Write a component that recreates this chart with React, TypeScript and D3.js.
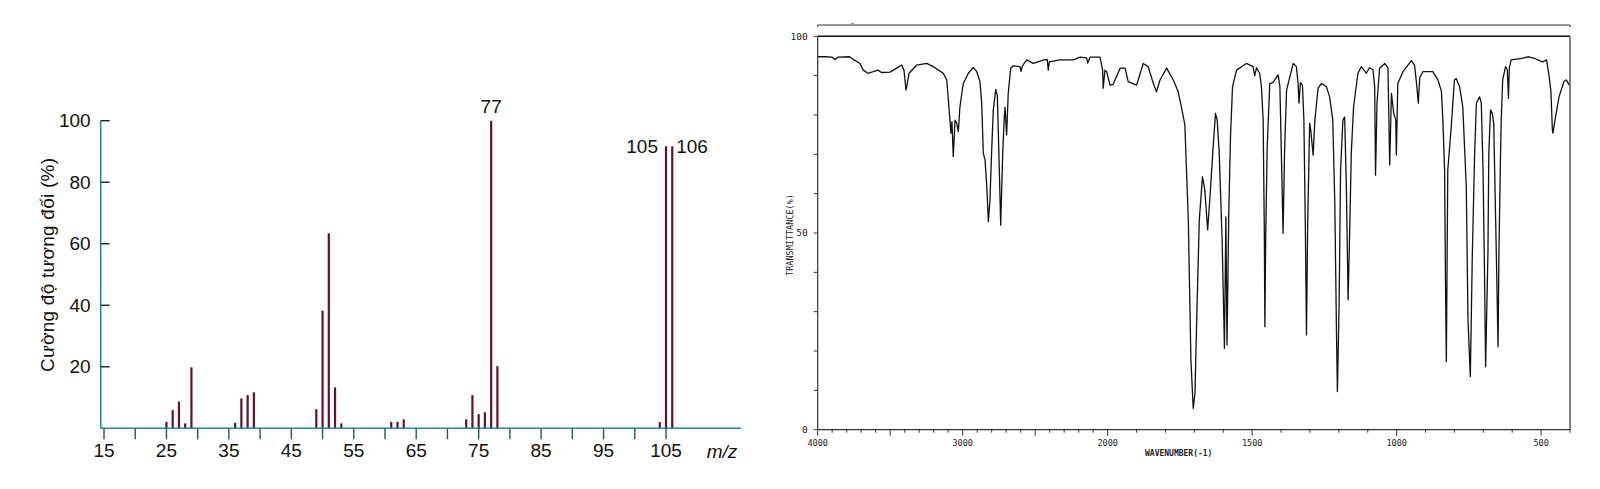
import React from 'react';
import * as d3 from 'd3';

// mass spectrum (left)
const msMz = [25, 26, 27, 28, 29, 36, 37, 38, 39, 49, 50, 51, 52, 53, 61, 62, 63, 73, 74, 75, 76, 77, 78, 104, 105, 106];
const msIntensity = [2.1, 5.9, 8.7, 1.6, 19.8, 1.8, 9.7, 10.8, 11.7, 6.2, 38.2, 63.4, 13.3, 1.6, 2.1, 2.1, 2.9, 2.9, 10.8, 4.6, 5.2, 100, 20.2, 2.0, 91.7, 91.7];
const msYTicks = [20, 40, 60, 80, 100];
const msXTicks = d3.range(15, 106, 5);
const msXLabels = [15, 25, 35, 45, 55, 65, 75, 85, 95, 105];

// IR spectrum (right)
const irWavenumber = [
  4000, 3950, 3900, 3880, 3860, 3780, 3750, 3708, 3686, 3653, 3617, 3584, 3560, 3501, 3455, 3421, 3405, 3391, 3382, 3370,
  3317, 3248, 3203, 3134, 3110, 3099, 3088, 3081, 3074, 3065, 3053, 3042, 3030, 3019, 2996, 2961, 2927, 2903, 2881, 2869,
  2858, 2846, 2834, 2823, 2812, 2800, 2789, 2772, 2761, 2748, 2738, 2724, 2713, 2708, 2697, 2686, 2669, 2651, 2605, 2598,
  2589, 2559, 2513, 2441, 2417, 2410, 2403, 2329, 2237, 2191, 2145, 2138, 2122, 2053, 2035, 2031, 2019, 2007, 1992, 1981,
  1957, 1940, 1929, 1900, 1877, 1860, 1842, 1831, 1819, 1796, 1773, 1756, 1744, 1733, 1721, 1712, 1704, 1698, 1692, 1683,
  1672, 1664, 1654, 1646, 1635, 1627, 1621, 1614, 1604, 1598, 1596, 1591, 1587, 1581, 1575, 1568, 1554, 1520, 1497, 1491,
  1485, 1474, 1468, 1462, 1458, 1456, 1453, 1448, 1439, 1428, 1410, 1404, 1399, 1393, 1388, 1381, 1358, 1347, 1341, 1338,
  1333, 1326, 1321, 1316, 1312, 1308, 1301, 1297, 1289, 1283, 1272, 1260, 1243, 1232, 1221, 1214, 1208, 1205, 1199, 1194,
  1186, 1180, 1174, 1168, 1162, 1157, 1149, 1134, 1122, 1105, 1094, 1082, 1076, 1073, 1068, 1059, 1041, 1030, 1027, 1024,
  1018, 1010, 1003, 1001, 996, 978, 949, 938, 930, 925, 920, 909, 875, 857, 845, 840, 834, 831, 828, 823,
  811, 800, 794, 782, 771, 759, 753, 745, 738, 730, 724, 713, 707, 701, 696, 692, 684, 681, 675, 669,
  664, 655, 649, 646, 641, 638, 633, 623, 617, 613, 610, 604, 566, 543, 520, 495, 481, 472, 466, 461,
  459, 452, 438, 421, 413, 402,
];
const irTransmittance = [
  94.8, 94.8, 94.7, 94.1, 94.7, 94.8, 94.0, 93.1, 91.4, 90.6, 91.0, 91.4, 90.8, 90.9, 91.9, 92.7, 91.4, 86.3, 88.0, 90.6,
  92.7, 93.1, 92.3, 90.6, 88.9, 83.8, 78.7, 75.4, 78.3, 69.4, 78.7, 78.0, 75.8, 82.1, 88.0, 90.6, 92.1, 91.0, 88.5, 83.0,
  70.3, 68.6, 61.8, 52.9, 58.4, 71.1, 81.3, 86.5, 84.9, 66.9, 52.0, 70.3, 79.6, 82.0, 74.9, 85.5, 91.9, 92.5, 92.3, 91.1,
  92.4, 94.0, 93.1, 94.0, 94.1, 91.4, 93.5, 94.0, 94.0, 94.7, 94.5, 93.2, 94.7, 94.7, 91.4, 86.8, 91.4, 91.0, 87.6, 87.8,
  91.9, 91.9, 88.5, 87.6, 93.1, 92.3, 88.0, 85.9, 88.9, 91.9, 88.9, 85.9, 81.7, 77.5, 53.3, 17.7, 5.4, 9.2, 27.9, 53.3,
  64.3, 61.0, 50.8, 59.2, 71.9, 80.4, 78.7, 70.3, 48.2, 27.9, 20.7, 54.1, 21.5, 55.0, 74.5, 87.2, 91.4, 93.1, 92.3, 90.0,
  92.0, 90.6, 87.2, 78.7, 50.8, 26.2, 50.0, 72.0, 88.0, 88.2, 90.2, 87.2, 70.3, 49.9, 70.3, 86.3, 93.1, 92.3, 88.0, 83.0,
  88.2, 87.6, 78.7, 51.6, 24.1, 52.0, 77.9, 76.0, 69.8, 78.7, 86.8, 88.0, 87.2, 84.6, 78.7, 57.6, 23.6, 9.7, 32.2, 66.0,
  78.7, 79.5, 61.8, 33.0, 52.0, 70.3, 82.1, 90.6, 92.3, 90.6, 92.0, 91.5, 87.2, 64.7, 83.0, 91.9, 93.1, 92.0, 79.6, 67.3,
  85.5, 80.4, 78.7, 69.8, 88.0, 91.0, 93.8, 92.7, 87.2, 83.0, 89.5, 91.0, 91.0, 88.9, 86.0, 78.7, 66.0, 38.0, 17.3, 66.0,
  77.0, 88.9, 89.3, 87.2, 82.0, 61.8, 27.9, 13.5, 44.8, 70.3, 83.0, 84.6, 83.0, 66.0, 40.6, 16.0, 45.0, 70.3, 81.3, 80.4,
  77.9, 44.8, 21.1, 44.8, 67.7, 78.7, 88.9, 92.3, 91.5, 84.2, 92.0, 94.0, 94.4, 94.8, 94.3, 93.5, 94.0, 89.7, 86.0, 76.2,
  75.4, 78.7, 84.6, 88.5, 88.9, 87.6,
];
const irYTicks = d3.range(0, 101, 10);
const irYLabels = [0, 50, 100];
const irXTicks = d3.range(4000, 399, -100);
const irXLabels = [4000, 3000, 2000, 1500, 1000, 500];

const msX = d3.scaleLinear().domain([15, 105]).range([104, 666]);
const msY = d3.scaleLinear().domain([0, 100]).range([428.3, 120.7]);

// the instrument doubles the scale below 2000 cm-1
const irX = d3.scaleLinear().domain([4000, 2000, 400]).range([817.7, 1107.7, 1570]);
const irY = d3.scaleLinear().domain([0, 100]).range([429.7, 36.3]);

const axisColor = '#2a86a4';
const tickColor = '#24566a';
const barColor = '#651030';
const sans = '"Liberation Sans", Arial, sans-serif';
const mono = '"DejaVu Sans Mono", monospace';

export default function App() {
  const irLine = d3
    .line<number>()
    .x((_, i) => irX(irWavenumber[i]))
    .y((t) => irY(t))(irTransmittance);

  const x0 = msX.range()[0] - 3.3;
  return (
    <svg width={1600} height={489} style={{ position: 'absolute', left: 0, top: 0, background: '#fff' }}>
      {/* ---------- mass spectrum ---------- */}
      <g fontFamily={sans} fill="#111" fontSize={19}>
        {msMz.map((m, i) => (
          <line key={m} x1={msX(m)} x2={msX(m)} y1={msY(0)} y2={msY(msIntensity[i])} stroke={barColor} strokeWidth={2.2} />
        ))}
        <line x1={x0} x2={741} y1={msY(0)} y2={msY(0)} stroke={axisColor} strokeWidth={1.6} />
        <line x1={x0} x2={x0} y1={msY(0)} y2={msY(100)} stroke={axisColor} strokeWidth={1.6} />
        {msYTicks.map((t) => (
          <g key={t}>
            <line x1={x0} x2={x0 + 9} y1={msY(t)} y2={msY(t)} stroke="#222" strokeWidth={1.4} />
            <text x={x0 - 10} y={msY(t)} dy="0.35em" textAnchor="end">{t}</text>
          </g>
        ))}
        {msXTicks.map((t) => (
          <line key={t} x1={msX(t)} x2={msX(t)} y1={msY(0)} y2={msY(0) + 11} stroke={tickColor} strokeWidth={1.4} />
        ))}
        {msXLabels.map((t) => (
          <text key={t} x={msX(t)} y={450} dy="0.35em" textAnchor="middle">{t}</text>
        ))}
        <text x={722} y={451} dy="0.35em" textAnchor="middle" fontStyle="italic">m/z</text>
        <text
          transform={`translate(47,265) rotate(-90)`}
          dy="0.35em"
          textAnchor="middle"
          textLength={214}
          lengthAdjust="spacing"
        >
          Cường độ tương đối (%)
        </text>
        <text x={msX(77)} y={msY(100) - 14} dy="0.35em" textAnchor="middle">77</text>
        <text x={msX(105) - 8} y={msY(91.7)} dy="0.35em" textAnchor="end">105</text>
        <text x={msX(106) + 4} y={msY(91.7)} dy="0.35em" textAnchor="start">106</text>
      </g>

      {/* ---------- IR spectrum ---------- */}
      <g fontFamily={mono} fill="#222">
        <path d={irLine ?? ''} fill="none" stroke="#111" strokeWidth={1.3} strokeLinejoin="round" />
        {/* frame */}
        <line x1={irX(4000)} x2={irX(400)} y1={25} y2={25} stroke="#333" strokeWidth={1.2} />
        <line x1={irX(4000)} x2={irX(4000)} y1={25} y2={27} stroke="#333" strokeWidth={1} />
        <line x1={irX(400)} x2={irX(400)} y1={25} y2={27} stroke="#333" strokeWidth={1} />
        <line x1={851} x2={854} y1={23.5} y2={23.5} stroke="#777" strokeWidth={0.8} />
        <line x1={irX(4000)} x2={irX(400)} y1={irY(100)} y2={irY(100)} stroke="#111" strokeWidth={1.6} />
        <line x1={irX(4000)} x2={irX(4000)} y1={irY(100)} y2={irY(0)} stroke="#333" strokeWidth={1.2} />
        <line x1={irX(400)} x2={irX(400)} y1={irY(100)} y2={irY(0)} stroke="#333" strokeWidth={1.2} />
        <line x1={irX(4000)} x2={irX(400)} y1={irY(0)} y2={irY(0)} stroke="#333" strokeWidth={1.2} />
        {irYTicks.map((t) => (
          <line key={t} x1={irX(4000) - 4} x2={irX(4000)} y1={irY(t)} y2={irY(t)} stroke="#333" strokeWidth={1} />
        ))}
        {irYLabels.map((t) => (
          <text key={t} x={irX(4000) - 10} y={irY(t)} dy="0.35em" textAnchor="end" fontSize={9.5}>{t}</text>
        ))}
        {irXTicks.map((t) => (
          <line
            key={t}
            x1={irX(t)}
            x2={irX(t)}
            y1={irY(0)}
            y2={irY(0) + (t % 500 === 0 ? 6 : 3)}
            stroke="#333"
            strokeWidth={1}
          />
        ))}
        {irXLabels.map((t) => (
          <text key={t} x={irX(t)} y={443} dy="0.35em" textAnchor="middle" fontSize={8.5}>{t}</text>
        ))}
        <text x={1145} y={453} dy="0.35em" fontSize={8} fontWeight="bold">WAVENUMBER(-1)</text>
        <text transform="translate(790,235) rotate(-90)" dy="0.35em" textAnchor="middle" fontSize={8.5}>
          TRANSMITTANCE(%)
        </text>
      </g>
    </svg>
  );
}
